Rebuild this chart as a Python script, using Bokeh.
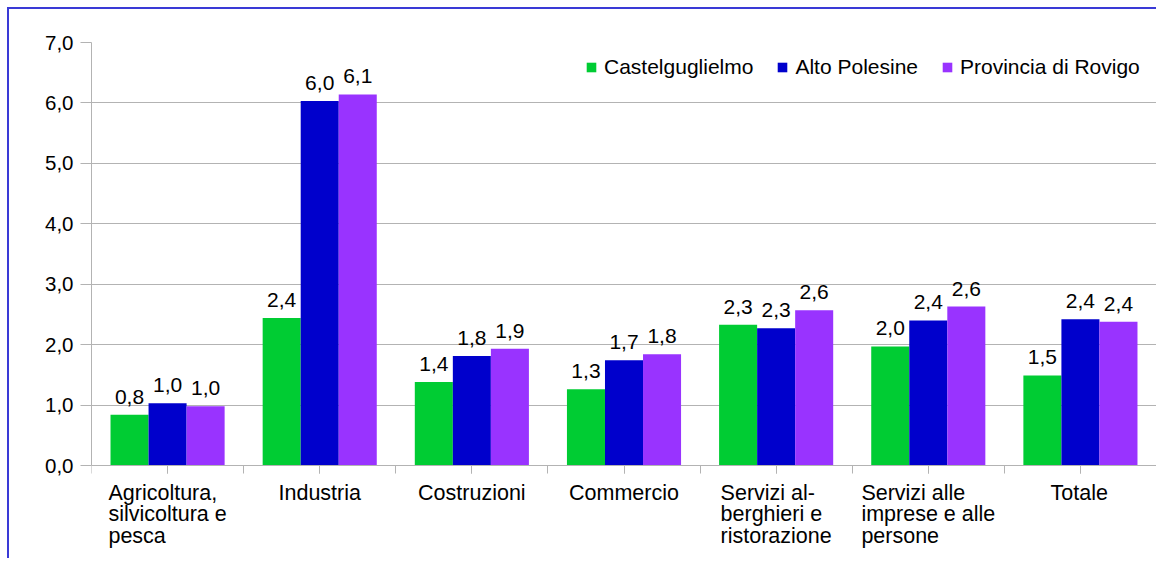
from bokeh.plotting import figure
from bokeh.models import ColumnDataSource, Range1d, FixedTicker, Legend, LegendItem, LinearAxis
from bokeh.core.properties import value
from bokeh.embed import file_html
from bokeh.resources import INLINE

categories = ["Agricoltura,\nsilvicoltura e\npesca", "Industria", "Costruzioni", "Commercio",
              "Servizi al-\nberghieri e\nristorazione", "Servizi alle\nimprese e alle\npersone", "Totale"]
series_names = ["Castelguglielmo", "Alto Polesine", "Provincia di Rovigo"]
castelguglielmo = [0.84, 2.44, 1.38, 1.26, 2.33, 1.97, 1.49]
alto_polesine = [1.03, 6.03, 1.81, 1.74, 2.27, 2.40, 2.42]
provincia_rovigo = [0.98, 6.14, 1.93, 1.84, 2.57, 2.63, 2.38]
y_ticks = [0, 1, 2, 3, 4, 5, 6, 7]

colors = ["#00cc33", "#0000cc", "#9933ff"]
FONT = "Liberation Sans"
GRID = "#b3b3b3"
CAT_FS = 21.5

# Liberation Sans (Arial metrics) advance widths per em, used to centre label blocks
W = {' ': .278, ',': .278, '-': .333, 'A': .667, 'C': .722, 'I': .278, 'S': .667, 'T': .611,
     'a': .556, 'b': .556, 'c': .5, 'd': .556, 'e': .556, 'g': .556, 'h': .556, 'i': .222,
     'l': .222, 'm': .833, 'n': .556, 'o': .556, 'p': .556, 'r': .333, 's': .5, 't': .278,
     'u': .556, 'v': .5, 'z': .5}


def text_width(s, fs):
    return max(sum(W.get(ch, .556) for ch in line) for line in s.split("\n")) * fs


# frame extends below zero so that left-aligned multi-line category labels can be drawn
FRAME_W, FRAME_H, PLOT_H = 1065, 516, 423
y_top = y_ticks[-1]
y_bottom = -(y_top * FRAME_H / PLOT_H - y_top)

p = figure(frame_width=FRAME_W, frame_height=FRAME_H, output_backend="svg", toolbar_location=None,
           x_range=Range1d(0, len(categories)), y_range=Range1d(y_bottom, y_top),
           min_border_left=91, min_border_right=0, min_border_top=42, min_border_bottom=0,
           styles={"box-shadow": "inset 7px 7px 0 0 #ffffff, inset 9px 9px 0 0 #3a3ad6"})
p.background_fill_color = "white"
p.border_fill_color = None
p.outline_line_color = None
p.xgrid.visible = False
p.ygrid.grid_line_color = GRID
p.ygrid.ticker = FixedTicker(ticks=y_ticks)

# y axis
p.yaxis.ticker = FixedTicker(ticks=y_ticks)
p.yaxis.bounds = (0, y_top)
p.yaxis.major_label_overrides = {t: f"{t:.1f}".replace(".", ",") for t in y_ticks}
p.yaxis.axis_line_color = GRID
p.yaxis.major_tick_line_color = GRID
p.yaxis.major_tick_in = 0
p.yaxis.major_tick_out = 11
p.yaxis.minor_tick_line_color = None
p.yaxis.major_label_standoff = 7
p.yaxis.major_label_text_font = FONT
p.yaxis.major_label_text_font_size = "20.5px"
p.yaxis.major_label_text_color = "#000000"

# right edge of the chart area
right_axis = LinearAxis(ticker=FixedTicker(ticks=[]), bounds=(0, y_top), axis_line_color=GRID,
                        major_tick_line_color=None, minor_tick_line_color=None,
                        major_label_text_font_size="1px", major_label_standoff=0)
p.add_layout(right_axis, "right")

# x axis at y = 0: ticks at category centres and boundaries
centers = [i + 0.5 for i in range(len(categories))]
half_ticks = [i / 2 for i in range(2 * len(categories) + 1)]
p.xaxis.fixed_location = 0
p.xaxis.ticker = FixedTicker(ticks=centers, minor_ticks=half_ticks)
p.xaxis.major_label_overrides = {c: "" for c in centers}
p.xaxis.major_label_text_font_size = "1px"
p.xaxis.major_label_standoff = 0
p.xaxis.axis_line_color = GRID
p.xaxis.major_tick_line_color = GRID
p.xaxis.minor_tick_line_color = GRID
p.xaxis.major_tick_in = 0
p.xaxis.major_tick_out = 8
p.xaxis.minor_tick_in = 0
p.xaxis.minor_tick_out = 8

# category labels: block centred under the category, lines left-aligned
cat_src = ColumnDataSource(dict(x=centers, y=[0] * len(centers), text=categories,
                                xo=[-text_width(c, CAT_FS) / 2 for c in categories]))
p.text(x="x", y="y", text="text", source=cat_src, x_offset="xo", y_offset=15,
       text_align="left", text_baseline="top", text_font=value(FONT),
       text_font_size=f"{CAT_FS}px", text_line_height=0.9, text_color="#000000")

offsets = [-0.25, 0.0, 0.25]
all_series = [castelguglielmo, alto_polesine, provincia_rovigo]

items = []
for name, vals, off, col in zip(series_names, all_series, offsets, colors):
    src = ColumnDataSource(dict(x=[c + off for c in centers], top=vals,
                                label=[f"{round(v, 1):.1f}".replace(".", ",") for v in vals]))
    r = p.vbar(x="x", top="top", width=0.25, bottom=0, source=src,
               fill_color=col, line_color=None)
    p.text(x="x", y="top", text="label", source=src, text_align="center",
           text_baseline="alphabetic", y_offset=-18, text_font=value(FONT),
           text_font_size="21px", text_color="#000000")
    items.append(LegendItem(label=name, renderers=[r]))

legend = Legend(items=items, orientation="horizontal", location=(494, 383.5 + (FRAME_H - PLOT_H)),
                glyph_width=12, glyph_height=12, label_standoff=7, spacing=23,
                label_height=30,
                margin=0, padding=0, border_line_color=None, background_fill_alpha=0,
                label_text_font=FONT, label_text_font_size="21px", label_text_color="#000000")
p.add_layout(legend)

open("out.html", "w").write(file_html(p, INLINE))
